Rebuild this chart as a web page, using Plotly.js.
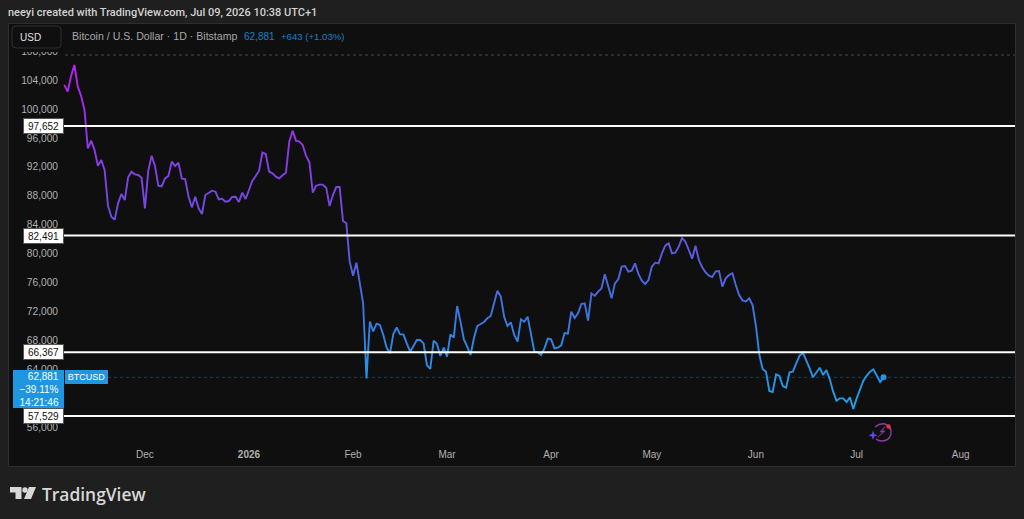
<!DOCTYPE html>
<html><head><meta charset="utf-8">
<script src="https://cdn.plot.ly/plotly-3.0.1.min.js"></script>
<style>html,body{margin:0;padding:0;background:#1f1f1f;overflow:hidden}#c{width:1024px;height:519px}</style>
</head><body><div id="c"></div>
<script>
const firstDay = '2025-11-07';
const closes = [
103324,102402,104569,106091,103093,101802,99865,94561,95622,94331,
92163,92947,91563,86629,85107,84692,86951,88243,87413,90549,
91333,90964,90872,90503,86260,91425,93547,92117,89396,89304,
90410,90733,92716,92117,92578,90364,90318,87874,86399,87874,
86260,85476,88105,88428,88705,88566,87505,87598,87183,87275,
87828,87874,87136,88428,87552,88797,90042,90734,91472,93962,
93778,91333,91103,90642,90411,90826,91195,95484,97006,95623,
95484,95023,93501,92625,88428,89396,89535,89535,89120,86583,
88105,89212,89212,84509,84186,78882,76945,78744,75654,73117,
62740,70581,69243,70304,70120,68736,66983,66199,68874,69797,
68828,68828,67583,66430,67214,68044,68044,67583,64585,64032,
67952,67491,65830,66983,65738,68828,68367,72748,70581,68136,
67122,65969,68275,69981,70258,70535,71042,71365,73117,74870,
74040,71273,69981,70489,68736,67814,70904,70581,71273,68736,
66430,66338,65969,66891,68229,68136,66891,66983,67306,69013,
68920,71964,71088,71734,73025,73117,70719,74501,74178,74732,
75193,77130,75424,73809,75885,76438,78191,78283,77499,77637,
78652,77176,76254,75793,76346,78191,78744,78652,80036,81096,
81419,80036,80128,80958,82157,81650,80497,79298,81096,79113,
78099,77407,76946,76761,77545,77591,75424,76577,77038,77268,
75654,74271,73533,73394,73809,72888,70000,66000,64033,63664,
60989,60850,63295,63064,61680,61450,63571,63664,64817,65877,
66292,65278,64125,62880,63525,64217,63202,63894,62603,60896,
59651,59974,59974,59467,60112,58498,59974,61358,62418,63110,
63664,63986,63202,62238,62881];
const levels = [97652, 82491, 66367, 57529];
const lastClose = 62881;
const rangeHigh = 107475;
const yTicks = [56000,64000,68000,72000,76000,80000,84000,88000,92000,96000,100000,104000,108000];
const xTickDates = ['2025-12-01','2026-01-01','2026-02-01','2026-03-01','2026-04-01','2026-05-01','2026-06-01','2026-07-01','2026-08-01'];
const xTickText = ['Dec','<b>2026</b>','Feb','Mar','Apr','May','Jun','Jul','Aug'];
const titleText = 'neeyi created with TradingView.com, Jul 09, 2026 10:38 UTC+1';
const symbolText = 'Bitcoin / U.S. Dollar · 1D · Bitstamp';
const pctChange = '−39.11%', countdown = '14:21:46', changeText = '+643 (+1.03%)';

const fmt = v => v.toLocaleString('en-US');
const day0 = Date.parse(firstDay + 'T00:00:00Z');
const dates = closes.map((_, i) => new Date(day0 + i * 864e5).toISOString().slice(0, 10));

const L = 60, R = 1015, T = 47, B = 442;
const X = p => (p - L) / (R - L), Y = p => 1 - (p - T) / (B - T);
const FONT = '"Liberation Sans", Arial, sans-serif';
const PAD = '\u00a0\u00a0';

function rect(x0, y0, x1, y1, fill, layer, line) {
  return {type:'rect', xref:'paper', yref:'paper', x0:X(x0), x1:X(x1), y0:Y(y0), y1:Y(y1),
    fillcolor:fill, layer:layer||'above', line: line||{width:0}};
}
function path(pts, fill, line) {
  const d = pts.map(([c, ...n]) => c + n.map((v, i) => i % 2 ? Y(v) : X(v)).join(' ')).join(' ');
  return {type:'path', xref:'paper', yref:'paper', path:d, fillcolor:fill||'rgba(0,0,0,0)', layer:'above', line: line||{width:0}};
}
function ellipse(cx, cy, r, fill, line) {
  return {type:'circle', xref:'paper', yref:'paper', x0:X(cx-r), x1:X(cx+r), y0:Y(cy-r), y1:Y(cy+r),
    fillcolor:fill||'rgba(0,0,0,0)', layer:'above', line: line||{width:0}};
}
function txt(text, x, y, size, color, anchor, extra) {
  return Object.assign({text, xref:'paper', yref:'paper', x:X(x), y:Y(y), xanchor:anchor||'left', yanchor:'middle',
    showarrow:false, font:{family:FONT, size, color}, borderpad:0, borderwidth:0}, extra||{});
}

const shapes = [
  rect(8.5, 23.5, 1015.5, 466.5, '#0f0f0f', 'below', {color:'#2e2e2e', width:1}),
  {type:'line', xref:'paper', yref:'y', x0:X(108), x1:1, y0:lastClose, y1:lastClose, layer:'below', line:{color:'#17405c', width:1, dash:'dot'}},
  rect(9, 24, 1015, 52, '#0f0f0f'),
  path([['M',16,26],['L',57,26],['Q',61,26,61,30],['L',61,44],['Q',61,48,57,48],['L',16,48],['Q',12,48,12,44],['L',12,30],['Q',12,26,16,26],['Z']],
       '#0f0f0f', {color:'#2f2f2f', width:1}),
  {type:'line', xref:'paper', yref:'y', x0:X(65), x1:1, y0:rangeHigh, y1:rangeHigh, layer:'above', line:{color:'#4a4a4a', width:1, dash:'dot'}},
  ...levels.map(v => ({type:'line', xref:'paper', yref:'y', x0:0, x1:1, y0:v, y1:v, layer:'above', line:{color:'#ffffff', width:2}})),
  // TradingView logo
  path([['M',10,487],['L',21.5,487],['L',21.5,499],['L',15.5,499],['L',15.5,492.5],['L',10,492.5],['Z']], '#d8d8d8'),
  ellipse(25, 490, 2.7, '#d8d8d8'),
  path([['M',29,487],['L',36,487],['L',31,499],['L',24,499],['Z']], '#d8d8d8'),
  // energy badge
  path([['M',875,427],['Q',880,423,885,424],['Q',892,427,891,434],['Q',889,441,882,441],['Q',878,441,876,439]], null, {color:'#8e3aa8', width:1.4}),
  path([['M',885,426.5],['L',880,432],['L',883,432],['L',878,437],['L',885,431],['L',882,431],['Z']], '#8e3aa8', {color:'#8e3aa8', width:.6}),
  path([['M',873,430.5],['L',874.2,434],['L',877.5,435.2],['L',874.2,436.4],['L',873,440],['L',871.8,436.4],['L',868.5,435.2],['L',871.8,434],['Z']], '#6a40f0'),
  ellipse(888.5, 426.5, 2.2, '#f03040')
];

const annotations = [
  txt(titleText, 8, 13, 11, '#cfcfcf', 'left', {font:{family:'Roboto, sans-serif', size:11, color:'#d2d2d2', weight:500}}),
  txt('USD', 20, 37.5, 10, '#e0e0e0'),
  txt(symbolText, 72, 36, 10.6, '#a8a8a8'),
  txt(fmt(lastClose), 244, 36, 10, '#1c80c4'),
  txt(changeText, 281, 36, 9.6, '#1c80c4'),
  txt('TradingView', 42, 494, 17.4, '#d8d8d8', 'left', {font:{family:'"Open Sans", sans-serif', size:17.4, color:'#d8d8d8', weight:600}}),
  ...levels.map(v => ({text:fmt(v), xref:'paper', yref:'y', x:X(64), y:v, xanchor:'right', yanchor:'middle', showarrow:false,
    width:39, height:14, align:'center', bgcolor:'#ffffff', bordercolor:'#555555', borderwidth:1, borderpad:0,
    font:{family:FONT, size:10, color:'#111111'}})),
  {text:fmt(lastClose) + PAD + '<br>' + pctChange + PAD + '<br>' + countdown + PAD, xref:'paper', yref:'y', x:X(64), y:lastClose,
    xanchor:'right', yanchor:'top', yshift:7, showarrow:false, width:51, height:38, align:'right', bgcolor:'#2196e0',
    borderpad:0, borderwidth:0, font:{family:FONT, size:10, color:'#ffffff'}},
  {text:'BTCUSD', xref:'paper', yref:'y', x:X(65), y:lastClose, xanchor:'left', yanchor:'middle', showarrow:false,
    width:43, height:14, align:'center', bgcolor:'#2196e0', borderpad:0, borderwidth:0, font:{family:FONT, size:9, color:'#ffffff'}}
];

const traces = [
  {type:'scatter', mode:'lines', x:dates, y:closes, line:{color:'#5a60e0', width:1.9}, hoverinfo:'skip'},
  {type:'scatter', mode:'markers', x:dates.slice(-1), y:closes.slice(-1), marker:{color:'#2196e0', size:6}, hoverinfo:'skip'}
];

const layout = {
  width:1024, height:519, showlegend:false,
  paper_bgcolor:'#1f1f1f', plot_bgcolor:'rgba(0,0,0,0)',
  margin:{l:L, r:1024-R, t:T, b:519-B, pad:0},
  xaxis:{type:'date', range:['2025-11-05 17:00','2026-08-17 04:00'], tickmode:'array', tickvals:xTickDates, ticktext:xTickText,
    showgrid:false, zeroline:false, showline:false, ticks:'', ticklen:0, tickangle:0, ticklabelstandoff:5,
    tickfont:{family:FONT, size:10, color:'#b0b0b0'}},
  yaxis:{range:[53933,108582], tickmode:'array', tickvals:yTicks, ticktext:yTicks.map(fmt),
    showgrid:false, zeroline:false, showline:false, ticks:'', ticklen:0, ticklabelstandoff:1,
    tickfont:{family:FONT, size:10.2, color:'#b0b0b0'}},
  shapes, annotations
};

Plotly.newPlot('c', traces, layout, {displayModeBar:false, staticPlot:true}).then(() => {
  const svg = document.querySelector('#c .main-svg');
  const NS = 'http://www.w3.org/2000/svg';
  const defs = svg.querySelector('defs');
  const g = document.createElementNS(NS, 'linearGradient');
  g.setAttribute('id', 'lineGrad');
  g.setAttribute('x1', '0'); g.setAttribute('y1', '0'); g.setAttribute('x2', '0'); g.setAttribute('y2', '1');
  [[0,'#bb1ff0'],[.25,'#8a3ae8'],[.48,'#6a50e0'],[.69,'#4070e0'],[.91,'#2496e8'],[1,'#1ca0e8']].forEach(([o,c]) => {
    const s = document.createElementNS(NS, 'stop');
    s.setAttribute('offset', o); s.setAttribute('stop-color', c); g.appendChild(s);
  });
  defs.appendChild(g);
  const p = document.querySelector('#c .scatterlayer .trace .js-line');
  if (p) p.style.stroke = 'url(#lineGrad)';
});
</script></body></html>
